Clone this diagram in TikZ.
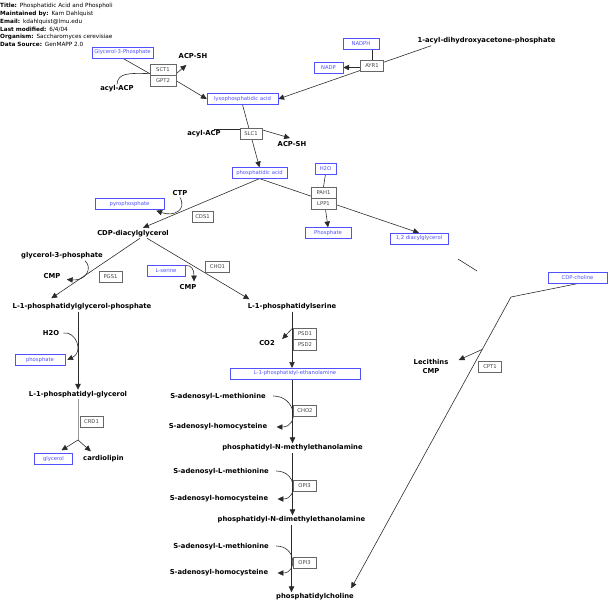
\documentclass[tikz,border=0pt]{standalone}
\usepackage{fontspec}
\setmainfont{DejaVu Sans}
\usetikzlibrary{arrows.meta, positioning, calc, backgrounds}
\definecolor{metblue}{HTML}{5050FF}
\definecolor{genegray}{HTML}{666666}
\definecolor{genetext}{HTML}{444444}
\definecolor{linedark}{HTML}{2A2A2A}
\definecolor{linelight}{HTML}{999999}

\begin{document}
\begin{tikzpicture}[x=0.03cm, y=-0.03cm,
    met/.style={rectangle, draw=metblue, fill=white, text=metblue, font=\fontsize{4.5}{5}\selectfont, minimum width=#1*0.8536pt, minimum height=9.2pt, inner sep=0pt},
    gene/.style={rectangle, draw=genegray, fill=white, text=genetext, font=\fontsize{4.5}{5}\selectfont, minimum width=#1*0.8536pt, minimum height=9.2pt, inner sep=0pt},
    cpd/.style={font=\bfseries\fontsize{5.8}{6}\selectfont, inner sep=1pt},
    hdr/.style={font=\fontsize{4.9}{5}\selectfont, anchor=west, inner sep=0pt},
    rxn/.style={draw=linedark, line width=0.5pt},
    arr/.style={rxn, -{Triangle[length=5pt,width=4.6pt]}},
]
\useasboundingbox (0,0) rectangle (615,610);

\node[hdr] (title) at (0,6) {\textbf{Title:}\enspace Phosphatidic Acid and Phospholi};
\node[hdr] (maint) at (0,14) {\textbf{Maintained by:}\enspace Kam Dahlquist};
\node[hdr] (email) at (0,22) {\textbf{Email:}\enspace kdahlquist@lmu.edu};
\node[hdr] (modif) at (0,29.5) {\textbf{Last modified:}\enspace 6/4/04};
\node[hdr] (organism) at (0,37) {\textbf{Organism:}\enspace Saccharomyces cerevisiae};
\node[hdr] (source) at (0,44.5) {\textbf{Data Source:}\enspace GenMAPP 2.0};

\node[met=61] (g3p) at (122.5,52.5) {Glycerol-3-Phosphate};
\node[cpd] (acpsha) at (193,56) {ACP-SH};
\node[gene=26] (sct1) at (163,69.5) {SCT1};
\node[gene=26, below=0pt of sct1] (gpt2) {GPT2};
\node[cpd] (acylacpa) at (117,89) {acyl-ACP};
\node[met=71] (lpa) at (242.5,99) {lysophosphatidic acid};
\node[met=36] (nadph) at (361,44) {NADPH};
\node[met=29] (nadp) at (328.5,67.5) {NADP};
\node[gene=23] (ayr1) at (372,65.5) {AYR1};
\node[cpd] (dhap) at (486.5,41) {1-acyl-dihydroxyacetone-phosphate};

\node[gene=22] (slc1) at (251,133.5) {SLC1};
\node[cpd] (acylacpb) at (204,134) {acyl-ACP};
\node[cpd] (acpshb) at (292,144) {ACP-SH};
\node[met=55] (pa) at (259.5,173) {phosphatidic acid};

\node[met=21] (h2oa) at (325.5,168.5) {H2O};
\node[gene=25] (pah1) at (323.5,192.5) {PAH1};
\node[gene=25, below=0pt of pah1] (lpp1) {LPP1};
\node[met=46] (pia) at (328,233) {Phosphate};
\node[met=58] (dag) at (419,238.5) {1,2 diacylglycerol};

\node[met=69] (ppi) at (129.5,204) {pyrophosphate};
\node[cpd] (ctp) at (180,193.5) {CTP};
\node[gene=21] (cds1) at (202.5,217) {CDS1};
\node[cpd] (cdpdag) at (133,233.5) {CDP-diacylglycerol};

\node[cpd] (g3pb) at (62,256) {glycerol-3-phosphate};
\node[cpd] (cmpa) at (52,276.5) {CMP};
\node[gene=23] (pgs1) at (110.5,276.5) {PGS1};
\node[met=38] (ser) at (166,270.5) {L-serine};
\node[gene=24] (cho1) at (217.5,267) {CHO1};
\node[cpd] (cmpb) at (188,287.5) {CMP};
\node[cpd] (pgp) at (82,307) {L-1-phosphatidylglycerol-phosphate};
\node[cpd] (ps) at (292,307) {L-1-phosphatidylserine};

\node[cpd] (h2ob) at (51,333) {H2O};
\node[met=50] (pib) at (40,360) {phosphate};
\node[cpd] (pg) at (78,394.5) {L-1-phosphatidyl-glycerol};
\node[gene=23] (crd1) at (91.5,421.5) {CRD1};
\node[met=38] (glyc) at (53.5,459) {glycerol};
\node[cpd] (cl) at (103.5,459) {cardiolipin};

\node[gene=23] (psd1) at (305,333.5) {PSD1};
\node[gene=23, below=0pt of psd1] (psd2) {PSD2};
\node[cpd] (co2) at (267,343) {CO2};
\node[met=130] (pe) at (295,373.5) {L-1-phosphatidyl-ethanolamine};

\node[cpd] (sama) at (218,397) {S-adenosyl-L-methionine};
\node[gene=23] (cho2) at (305,411) {CHO2};
\node[cpd] (saha) at (218,427) {S-adenosyl-homocysteine};
\node[cpd] (pnme) at (292.5,448) {phosphatidyl-N-methylethanolamine};
\node[cpd] (samb) at (221,472) {S-adenosyl-L-methionine};
\node[gene=23] (opi3a) at (304.5,486) {OPI3};
\node[cpd] (sahb) at (219,499) {S-adenosyl-homocysteine};
\node[cpd] (pndme) at (291.5,520) {phosphatidyl-N-dimethylethanolamine};
\node[cpd] (samc) at (221,547) {S-adenosyl-L-methionine};
\node[gene=23] (opi3b) at (304.5,563) {OPI3};
\node[cpd] (sahc) at (219,573) {S-adenosyl-homocysteine};
\node[cpd] (pc) at (315,597) {phosphatidylcholine};

\node[met=59] (cdpc) at (577.5,278) {CDP-choline};
\node[gene=23] (cpt1) at (490,367) {CPT1};
\node[cpd] (lec) at (431,362) {Lecithins};
\node[cpd] (cmpc) at (431,371.5) {CMP};

\coordinate (sctin) at ($(sct1.south west)+(0,-1.5)$);
\coordinate (crdsplit) at (78,440);
\coordinate (choljoint) at (511,297);
\coordinate (pcin) at ($(pc.north east)+(-4,-4)$);
\coordinate (dagtaila) at (458,259);
\coordinate (dagtailb) at (477,271);

\begin{scope}[on background layer]
\draw[rxn] (g3p.south) -- (sctin);
\draw[rxn] (acylacpa.north) .. controls (118,73) and (128,73) .. (sctin);
\draw[arr] ($(sct1.south east)+(0,-1.5)$) -- ($(acpsha.south west)+(9,5)$);
\draw[arr] (gpt2.east) -- (lpa.west);
\draw[arr] ($(dhap.south west)+(15,0)$) -- (lpa.east);
\draw[rxn] (ayr1.north) -- (ayr1.north |- nadph.south);
\draw[arr] (ayr1.west |- nadp.east) -- (nadp.east);

\draw[arr] (lpa.south) -- (pa.north);
\draw[rxn] ($(acylacpb.north east)+(-8,0)$) -- (acylacpb.north east -| slc1.west);
\draw[arr] ($(slc1.north east)+(0,2)$) -- ($(acpshb.north)+(-2,-2)$);

\draw[arr] (pa.south) -- (dag.north);
\draw[rxn] (h2oa.south) -- (pah1.north);
\draw[arr] ($(lpp1.south)+(2,0)$) -- (pia.north);

\draw[arr] (pa.south) -- ($(cdpdag.north)+(10,-1)$);
\draw[arr] (ctp.south) .. controls (187,210) and (174,217) .. ($(ppi.south east)+(-8,1)$);

\draw[arr] ($(cdpdag.south)+(7,0)$) -- ($(pgp.north west)+(40,-4)$);
\draw[arr] ($(g3pb.south)+(23,0)$) .. controls (93,268) and (86,281) .. ($(cmpa.east)+(5,3)$);
\draw[arr] ($(cdpdag.south)+(14,0)$) -- ($(ps.north west)+(3,-3)$);
\draw[arr] ($(ser.north east)+(0,0.5)$) .. controls (192,265) and (194,270) .. ($(cmpb.north)+(6,-2)$);

\draw[arr] (pg.north |- pgp.south) -- (pg.north);
\draw[arr] ($(h2ob.east)+(3,0)$) .. controls (76,331) and (84,352) .. ($(pib.east)+(2,0)$);
\draw[linelight, line width=0.5pt] (pg.south) -- (crdsplit);
\draw[arr] (crdsplit) -- ($(glyc.north)+(8,-3)$);
\draw[arr] (crdsplit) -- ($(cl.north west)+(9,-3)$);

\draw[arr] (ps.south) -- (ps.south |- pe.north);
\draw[arr] ($(ps.south)+(1,16)$) -- ($(co2.north east)+(6,0)$);

\draw[arr] (pnme.north |- pe.south) -- (pnme.north);
\draw[arr] ($(sama.east)+(6,-1)$) to[out=0, in=0, looseness=1.9] ($(saha.east)+(8,0)$);
\draw[arr] (pnme.south) -- (pnme.south |- pndme.north);
\draw[arr] ($(samb.east)+(6,-1)$) to[out=0, in=0, looseness=1.9] ($(sahb.east)+(8,0)$);
\draw[arr] (pndme.south) -- (pndme.south |- pc.north);
\draw[arr] ($(samc.east)+(6,-1)$) to[out=0, in=0, looseness=1.9] ($(sahc.east)+(8,0)$);

\draw[rxn] (cdpc.south) -- (choljoint);
\draw[arr] (choljoint) -- (pcin);
\draw[arr] ($(choljoint)!0.18!(pcin)$) -- ($(lec.east)+(9,-2)$);
\draw[rxn] (dagtaila) -- (dagtailb);
\end{scope}
\end{tikzpicture}
\end{document}
